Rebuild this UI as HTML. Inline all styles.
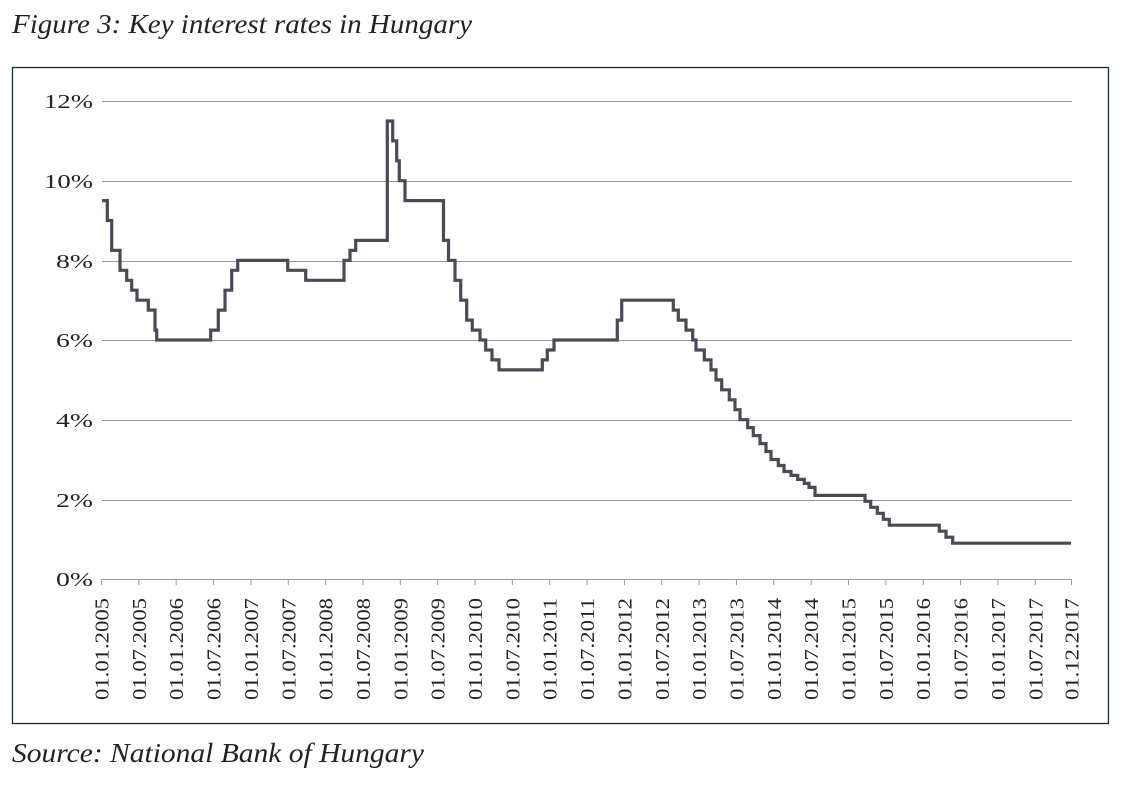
<!DOCTYPE html>
<html><head><meta charset="utf-8"><style>
body{margin:0;background:#fff;}
svg{display:block;font-family:"Liberation Serif",serif;}
</style></head><body>
<svg width="1126" height="785" viewBox="0 0 1126 785">
<text x="12" y="33" font-size="27" font-style="italic" fill="#222" textLength="460" lengthAdjust="spacingAndGlyphs">Figure 3: Key interest rates in Hungary</text>
<rect x="12.5" y="67.5" width="1096" height="656" fill="none" stroke="#1f2f22" stroke-width="1.3"/>
<g stroke="#8f9d8f" stroke-width="1">
<line x1="102" y1="101.5" x2="1072" y2="101.5"/>
<line x1="102" y1="181.5" x2="1072" y2="181.5"/>
<line x1="102" y1="261.5" x2="1072" y2="261.5"/>
<line x1="102" y1="340.5" x2="1072" y2="340.5"/>
<line x1="102" y1="420.5" x2="1072" y2="420.5"/>
<line x1="102" y1="500.5" x2="1072" y2="500.5"/>
</g>
<g stroke="#999" stroke-width="1">
<line x1="101.5" y1="579.5" x2="1072" y2="579.5"/>
<g id="ticks"></g>
</g>
<g font-size="20" fill="#222" text-anchor="end">
<text x="93" y="108" textLength="49" lengthAdjust="spacingAndGlyphs">12%</text>
<text x="93" y="188" textLength="49" lengthAdjust="spacingAndGlyphs">10%</text>
<text x="93" y="268" textLength="37" lengthAdjust="spacingAndGlyphs">8%</text>
<text x="93" y="347" textLength="37" lengthAdjust="spacingAndGlyphs">6%</text>
<text x="93" y="427" textLength="37" lengthAdjust="spacingAndGlyphs">4%</text>
<text x="93" y="507" textLength="37" lengthAdjust="spacingAndGlyphs">2%</text>
<text x="93" y="586" textLength="37" lengthAdjust="spacingAndGlyphs">0%</text>
</g>
<g id="xl" font-size="20" fill="#222" text-anchor="end"></g>
<path id="ln" fill="none" stroke="#4b4a55" stroke-width="3.2" stroke-linejoin="miter"/>
<text x="12" y="762" font-size="27" font-style="italic" fill="#222" textLength="412" lengthAdjust="spacingAndGlyphs">Source: National Bank of Hungary</text>
</svg>
<script>
var ns="http://www.w3.org/2000/svg";
var labels=[];
for(var y=2005;y<=2017;y++){labels.push("01.01."+y);labels.push("01.07."+y);}
labels.push("01.12.2017");
var tk=document.getElementById("ticks"),xl=document.getElementById("xl");
for(var i=0;i<labels.length;i++){
 var x=(i<26)?101.5+i*37.35:1071.5;
 var l=document.createElementNS(ns,"line");
 l.setAttribute("x1",x);l.setAttribute("x2",x);l.setAttribute("y1",579);l.setAttribute("y2",585);
 tk.appendChild(l);
 var t=document.createElementNS(ns,"text");
 t.setAttribute("transform","translate("+(x+7)+",598) rotate(-90)");
 t.setAttribute("textLength","102");t.setAttribute("lengthAdjust","spacingAndGlyphs");
 t.textContent=labels[i];xl.appendChild(t);
}
function Y(v){return 579-v*39.83;}
var steps=[[102,9.5],[107.3,9.0],[111.7,8.25],[120,7.75],[126.7,7.5],[131.7,7.25],[137,7.0],[148.3,6.75],[155,6.25],[156.7,6.0],
[210.7,6.25],[218.3,6.75],[225,7.25],[231.7,7.75],[237.7,8.0],[287.7,7.75],[305.7,7.5],[344,8.0],[350,8.25],[355.7,8.5],
[387.3,11.5],[392.7,11.0],[396.7,10.5],[399.3,10.0],[405,9.5],[443.5,8.5],[448.5,8.0],[455,7.5],[460.7,7.0],[466.7,6.5],[472.3,6.25],
[480,6.0],[485.7,5.75],[492,5.5],[499,5.25],[542.3,5.5],[547.3,5.75],[554,6.0],[617.3,6.5],[621.7,7.0]];
var d5=[[40,6.75],[55,6.5],[78,6.25],[98,6.0],[108,5.75],[133,5.5],[153,5.25],[168,5.0],[185,4.75],[208,4.5],[225,4.25],[240,4.0],
[263,3.8],[280,3.6],[300,3.4],[318,3.2],[333,3.0],[355,2.85],[372,2.7],[393,2.6],[413,2.5],[433,2.4],[447,2.3],[465,2.1],
[615,1.95],[632,1.8],[652,1.65],[670,1.5],[688,1.35],[838,1.2],[858,1.05],[878,0.9]];
d5.forEach(function(p){steps.push([660+p[0]/3,p[1]]);});
var d="M"+steps[0][0]+","+Y(steps[0][1]);
for(var k=1;k<steps.length;k++){d+=" H"+steps[k][0].toFixed(1)+" V"+Y(steps[k][1]).toFixed(1);}
d+=" H1071";
document.getElementById("ln").setAttribute("d",d);
</script>
</body></html>
